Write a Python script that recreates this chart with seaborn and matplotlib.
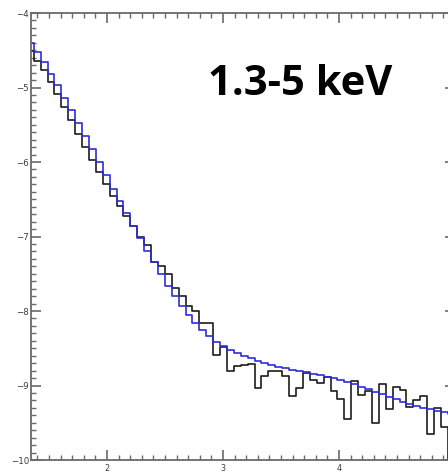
import numpy as np
import pandas as pd
import matplotlib
matplotlib.use("Agg")
import matplotlib.pyplot as plt
from matplotlib.ticker import MultipleLocator
import seaborn as sns

# Left edges of the energy bins (keV); the last entry closes the final bin
bin_edges = [1.309, 1.3685, 1.428, 1.4875, 1.547, 1.6065, 1.666, 1.7255, 1.785, 1.8445,
             1.904, 1.9635, 2.023, 2.0825, 2.142, 2.2015, 2.261, 2.3205, 2.380, 2.4395,
             2.499, 2.5585, 2.618, 2.6775, 2.737, 2.7965, 2.856, 2.9155, 2.975, 3.0345,
             3.094, 3.1535, 3.213, 3.2725, 3.332, 3.3915, 3.451, 3.5105, 3.570, 3.6295,
             3.689, 3.7485, 3.808, 3.8675, 3.927, 3.9865, 4.046, 4.1055, 4.165, 4.2245,
             4.284, 4.3435, 4.403, 4.4625, 4.522, 4.5815, 4.641, 4.7005, 4.760, 4.8195,
             4.879, 4.9385, 4.998]

# log10 of the observed spectrum (black)
observed = [-4.506, -4.640, -4.765, -4.922, -5.087, -5.258, -5.440, -5.620, -5.799, -5.973,
            -6.130, -6.299, -6.452, -6.591, -6.725, -6.860, -7.011, -7.114, -7.338, -7.396,
            -7.499, -7.695, -7.795, -7.933, -8.000, -8.165, -8.165, -8.591, -8.479, -8.809,
            -8.738, -8.729, -8.715, -9.034, -8.877, -8.801, -8.801, -8.868, -9.141, -9.029,
            -8.832, -8.926, -8.973, -8.890, -9.070, -9.185, -9.456, -8.946, -9.128, -9.074,
            -9.499, -8.983, -9.313, -9.020, -9.067, -9.293, -9.199, -9.145, -9.655, -9.306,
            -9.557, -10.8]

# log10 of the model spectrum (blue)
model = [-4.407, -4.519, -4.662, -4.815, -4.970, -5.141, -5.306, -5.477, -5.655, -5.826,
         -5.996, -6.174, -6.356, -6.519, -6.689, -6.863, -7.020, -7.191, -7.346, -7.503,
         -7.660, -7.799, -7.933, -8.054, -8.161, -8.259, -8.336, -8.420, -8.470, -8.523,
         -8.560, -8.600, -8.635, -8.667, -8.698, -8.725, -8.748, -8.769, -8.792, -8.805,
         -8.823, -8.842, -8.859, -8.882, -8.899, -8.926, -8.953, -8.980, -9.016, -9.051,
         -9.087, -9.118, -9.150, -9.181, -9.221, -9.252, -9.275, -9.306, -9.319, -9.338,
         -9.360, -9.380]

energy_band = "1.3-5 keV"
x_ticks = [2, 3, 4]
y_ticks = [-10, -9, -8, -7, -6, -5, -4]


def step_frame(values):
    # repeat the last value so the final bin gets its closing edge
    return pd.DataFrame({"energy": bin_edges, "logflux": list(values) + [values[-1]]})


sns.set_style("ticks")
plt.rcParams["font.family"] = ["DejaVu Sans"]

W, H = 448, 473
fig = plt.figure(figsize=(W / 100, H / 100), dpi=100)

# axes extend past the right edge of the canvas, so the right frame is cut off
x_lo, x_hi = 1.345, 5.0
px_per_kev = 116.0
left_px, bottom_px, top_px = 31.0, 460.0, 13.0
ax = fig.add_axes([left_px / W, (H - bottom_px) / H,
                   (x_hi - x_lo) * px_per_kev / W, (bottom_px - top_px) / H])

sns.lineplot(data=step_frame(observed), x="energy", y="logflux", ax=ax,
             drawstyle="steps-post", color="#1c1c1c", linewidth=1.2,
             estimator=None, sort=False)
sns.lineplot(data=step_frame(model), x="energy", y="logflux", ax=ax,
             drawstyle="steps-post", color="#2e2ed8", linewidth=1.2,
             estimator=None, sort=False)

ax.set_xlim(x_lo, x_hi)
ax.set_ylim(-10, -4)
ax.set_xlabel("")
ax.set_ylabel("")

ax.set_xticks(x_ticks)
ax.set_yticks(y_ticks)
ax.set_yticklabels(["\u2212" + str(-v) for v in y_ticks])
ax.xaxis.set_minor_locator(MultipleLocator(0.1))
ax.yaxis.set_minor_locator(MultipleLocator(0.1))

frame_col = "#6a6a6a"
for side in ax.spines.values():
    side.set_color(frame_col)
    side.set_linewidth(1.3)

ax.tick_params(which="both", direction="in", top=True, right=True,
               color=frame_col, labelcolor="#3a3a3a", labelsize=6.2)
ax.tick_params(which="major", length=7.5, width=1.2)
ax.tick_params(which="minor", length=3.5, width=1.0)
ax.tick_params(axis="y", which="major", pad=1.5)
ax.tick_params(axis="x", which="major", pad=3.2, labelsize=5.8)

fig.text(208 / W, 1 - 95 / H, energy_band, ha="left", va="baseline",
         fontsize=30, fontweight="bold", family=["Open Sans", "DejaVu Sans"],
         color="black")

fig.savefig("out.png", dpi=100, facecolor="white")
